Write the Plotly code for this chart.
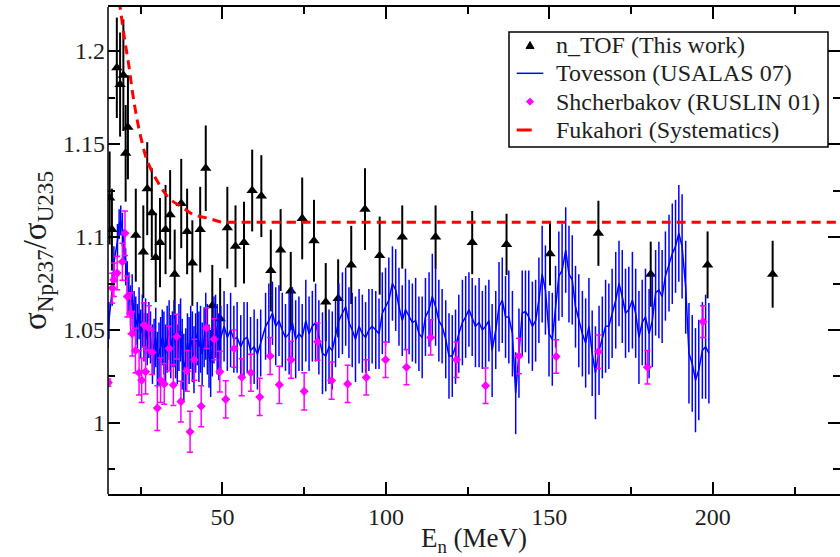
import plotly.graph_objects as go

# ---------------- data ----------------
ntof_E = [15.5, 16.2, 17.7, 18.7, 19.7, 20.4, 21.1, 23.5, 25.8, 27.0,
          28.4, 29.6, 30.9, 32.6, 34.0, 35.4, 37.4, 39.2, 40.8, 43.2,
          44.9, 46.9, 49.3, 51.5, 54.0, 56.6, 59.1, 61.9, 64.8, 67.8,
          70.9, 74.4, 78.0, 81.6, 85.4, 89.4, 93.6, 98.1, 105.0, 115.2,
          126.4, 136.9, 150.2, 165.0, 181.0, 198.4, 218.3]
ntof_R = [1.121, 1.104, 1.191, 1.182, 1.187, 1.145, 1.159, 1.101, 1.092, 1.126,
          1.113, 1.089, 1.097, 1.104, 1.112, 1.080, 1.118, 1.103, 1.086, 1.104,
          1.137, 1.063, 1.056, 1.105, 1.095, 1.097, 1.125, 1.122, 1.082, 1.093,
          1.071, 1.110, 1.098, 1.065, 1.067, 1.085, 1.115, 1.090, 1.100, 1.100,
          1.097, 1.096, 1.091, 1.102, 1.080, 1.085, 1.080]
ntof_err = [0.025, 0.022, 0.027, 0.028, 0.030, 0.026, 0.028, 0.025, 0.025, 0.025,
            0.024, 0.024, 0.024, 0.024, 0.024, 0.024, 0.024, 0.023, 0.023, 0.023,
            0.023, 0.022, 0.022, 0.022, 0.022, 0.022, 0.022, 0.022, 0.022, 0.022,
            0.021, 0.022, 0.022, 0.021, 0.021, 0.021, 0.022, 0.021, 0.017, 0.017,
            0.017, 0.0165, 0.017, 0.0175, 0.0175, 0.018, 0.018]

tov_E = [15.0, 15.3, 16.3, 16.8, 17.9, 18.4, 18.9, 19.4, 19.9, 20.4,
         20.9, 21.4, 21.9, 22.4, 23.0, 23.5, 24.0, 24.5, 25.0, 25.5,
         26.0, 26.5, 27.0, 27.5, 28.0, 28.6, 29.1, 29.6, 30.1, 30.6,
         31.1, 31.6, 32.1, 32.6, 33.1, 33.7, 34.2, 34.7, 35.2, 35.7,
         36.2, 36.7, 37.2, 37.7, 38.2, 38.8, 39.3, 39.8, 40.3, 40.8,
         41.3, 41.8, 42.3, 42.8, 43.3, 43.8, 44.4, 44.9, 45.4, 45.9,
         46.4, 46.9, 47.4, 47.9, 48.4, 48.9, 49.5, 50.5, 51.5, 52.5,
         53.5, 54.5, 55.6, 56.6, 57.6, 58.6, 59.7, 60.7, 61.7,
         63.2, 64.2, 65.3, 66.3, 67.3, 68.3, 69.3, 70.4, 71.4, 72.4,
         73.4, 74.4, 75.5, 76.5, 77.5, 78.5, 79.5, 80.6, 81.6, 82.6,
         83.6, 84.6, 85.6, 86.7, 87.7, 88.7, 89.7, 90.7, 91.8, 92.8,
         93.8, 94.8, 95.8, 96.9, 97.9, 98.9, 99.9, 100.9, 102.0, 103.0,
         104.0, 105.0, 106.0, 107.1, 108.1, 109.1, 110.1, 111.1, 112.1, 113.2,
         114.2, 115.2, 116.2, 117.2, 118.3, 119.3, 120.3, 121.3, 122.3, 123.4,
         124.4, 125.4, 126.4, 127.4, 128.5, 129.5, 130.5,
         131.5, 132.5, 133.6, 134.6, 135.6, 136.6, 137.6, 138.7, 139.7, 140.7,
         141.7, 142.7, 143.7, 144.8, 145.8, 146.8, 147.8, 148.8, 149.9, 150.9,
         151.9, 152.9, 153.9, 155.0, 156.0, 157.0, 158.0, 159.0, 160.1, 161.1,
         162.1, 163.1, 164.1, 165.2, 166.2, 167.2, 168.2, 169.2, 170.3, 171.3,
         172.3, 173.3, 174.3, 175.4, 176.4, 177.4, 178.4, 179.4, 180.5, 181.5,
         182.5, 183.5, 184.5, 185.5, 186.6, 187.6, 188.6, 189.6, 190.6, 191.7,
         192.7, 193.7, 194.7, 195.7, 196.8, 197.8, 198.8]
tov_R = [1.050, 1.055, 1.072, 1.086, 1.098, 1.107, 1.109, 1.104, 1.095, 1.084,
         1.077, 1.070, 1.063, 1.068, 1.059, 1.055, 1.052, 1.059, 1.048, 1.055,
         1.046, 1.052, 1.045, 1.050, 1.046, 1.037, 1.041, 1.046, 1.034, 1.037,
         1.041, 1.046, 1.043, 1.037, 1.045, 1.050, 1.041, 1.045, 1.048, 1.041,
         1.037, 1.046, 1.050, 1.037, 1.030, 1.034, 1.043, 1.039, 1.046, 1.041,
         1.034, 1.043, 1.048, 1.041, 1.045, 1.037, 1.046, 1.052, 1.045, 1.036,
         1.032, 1.041, 1.050, 1.052, 1.045, 1.041, 1.046, 1.052, 1.046, 1.050,
         1.045, 1.046, 1.041, 1.045, 1.046, 1.039, 1.041, 1.037, 1.043,
         1.052, 1.055, 1.059, 1.052, 1.055, 1.050, 1.046, 1.048, 1.054, 1.045,
         1.048, 1.046, 1.055, 1.048, 1.052, 1.054, 1.046, 1.0375, 1.036, 1.041,
         1.039, 1.048, 1.055, 1.059, 1.0625, 1.054, 1.050, 1.045, 1.052, 1.048,
         1.046, 1.050, 1.052, 1.050, 1.048, 1.059, 1.0625, 1.066, 1.075, 1.0715,
         1.0625, 1.055, 1.061, 1.057, 1.054, 1.055, 1.048, 1.046, 1.057, 1.061,
         1.068, 1.0625, 1.055, 1.052, 1.045, 1.036, 1.036, 1.041, 1.048, 1.054,
         1.057, 1.061, 1.057, 1.052, 1.054, 1.050, 1.052,
         1.055, 1.039, 1.050, 1.0625, 1.066, 1.057, 1.057, 1.048, 1.016, 1.0375,
         1.059, 1.060, 1.057, 1.052, 1.055, 1.066, 1.080, 1.0715, 1.048, 1.045,
         1.0625, 1.079, 1.082, 1.093, 1.080, 1.077, 1.0625, 1.055, 1.048, 1.043,
         1.052, 1.0375, 1.027, 1.039, 1.046, 1.052, 1.052, 1.059, 1.066, 1.075,
         1.068, 1.059, 1.061, 1.066, 1.059, 1.046, 1.054, 1.057, 1.048, 1.055,
         1.070, 1.0715, 1.068, 1.079, 1.086, 1.091, 1.095, 1.102, 1.095, 1.073,
         1.0375, 1.032, 1.023, 1.0285, 1.039, 1.041, 1.0375]
tov_err = [0.010, 0.010, 0.009, 0.009, 0.009, 0.008, 0.008, 0.009, 0.009, 0.010,
           0.010, 0.011, 0.011, 0.012, 0.012, 0.013, 0.012, 0.014, 0.013, 0.014,
           0.013, 0.015, 0.014, 0.015, 0.014, 0.016, 0.015, 0.016, 0.015, 0.017,
           0.016, 0.015, 0.017, 0.016, 0.018, 0.016, 0.017, 0.015, 0.018, 0.017,
           0.016, 0.018, 0.017, 0.019, 0.018, 0.017, 0.016, 0.018, 0.017, 0.019,
           0.018, 0.016, 0.017, 0.019, 0.018, 0.017, 0.016, 0.018, 0.019, 0.017,
           0.018, 0.016, 0.018, 0.017, 0.019, 0.018, 0.017, 0.019, 0.018, 0.020,
           0.018, 0.019, 0.017, 0.020, 0.019, 0.018, 0.020, 0.019, 0.018,
           0.018, 0.020, 0.017, 0.021, 0.019, 0.020, 0.018, 0.022, 0.019, 0.021,
           0.020, 0.018, 0.022, 0.020, 0.019, 0.021, 0.020, 0.022, 0.019, 0.020,
           0.021, 0.018, 0.020, 0.022, 0.021, 0.019, 0.020, 0.023, 0.020, 0.021,
           0.019, 0.022, 0.020, 0.021, 0.019, 0.022, 0.021, 0.023, 0.020, 0.022,
           0.021, 0.019, 0.022, 0.020, 0.021, 0.023, 0.020, 0.022, 0.021, 0.020,
           0.023, 0.021, 0.022, 0.020, 0.021, 0.023, 0.022, 0.020, 0.021, 0.023,
           0.022, 0.020, 0.021, 0.022, 0.024, 0.021, 0.022,
           0.022, 0.025, 0.021, 0.024, 0.023, 0.022, 0.025, 0.023, 0.022, 0.024,
           0.023, 0.022, 0.025, 0.024, 0.022, 0.023, 0.026, 0.024, 0.023, 0.025,
           0.022, 0.024, 0.025, 0.023, 0.026, 0.024, 0.022, 0.025, 0.023, 0.024,
           0.026, 0.023, 0.025, 0.024, 0.022, 0.025, 0.023, 0.024, 0.026, 0.023,
           0.025, 0.024, 0.023, 0.026, 0.024, 0.025, 0.023, 0.026, 0.024, 0.025,
           0.023, 0.026, 0.025, 0.024, 0.026, 0.027, 0.025, 0.026, 0.028, 0.025,
           0.027, 0.026, 0.028, 0.027, 0.026, 0.028, 0.027]

shch_E = [15.1, 16.3, 16.8, 17.8, 19.4, 20.2, 20.9, 21.9, 22.4, 23.4,
          24.5, 25.3, 26.0, 26.5, 27.5, 28.5, 30.1, 31.1, 32.2, 33.7,
          35.0, 36.0, 37.3, 39.1, 40.1, 41.4, 43.5, 45.1, 47.5, 49.2,
          51.0, 53.6, 55.9, 58.7, 61.4, 64.6, 67.4, 71.0, 75.0, 79.1,
          83.4, 88.3, 94.0, 99.9, 106.3, 113.7, 121.6, 130.5, 140.7, 152.1,
          165.0, 180.0, 197.0]
shch_R = [1.0217, 1.0725, 1.077, 1.0806, 1.0867, 1.102, 1.068, 1.059, 1.048, 1.039,
          1.027, 1.023, 1.0527, 1.0276, 1.051, 1.038, 1.008, 1.023, 1.021, 1.040,
          1.0204, 1.0464, 1.0115, 1.028, 0.9953, 1.034, 1.009, 1.051, 1.045, 1.0276,
          1.0127, 1.040, 1.0246, 1.027, 1.014, 1.036, 1.0205, 1.034, 1.017, 1.0437,
          1.0228, 1.021, 1.0245, 1.034, 1.030, 1.046, 1.034, 1.020, 1.036, 1.0357,
          1.0383, 1.030, 1.0545]
shch_err = [0.002, 0.008, 0.009, 0.009, 0.010, 0.012, 0.011, 0.011, 0.012, 0.012,
            0.012, 0.012, 0.012, 0.012, 0.012, 0.012, 0.012, 0.012, 0.011, 0.012,
            0.011, 0.012, 0.011, 0.011, 0.011, 0.011, 0.011, 0.011, 0.011, 0.011,
            0.010, 0.010, 0.010, 0.010, 0.010, 0.010, 0.010, 0.010, 0.010, 0.010,
            0.010, 0.010, 0.0095, 0.0095, 0.0095, 0.0095, 0.0095, 0.0095, 0.0095, 0.009,
            0.009, 0.009, 0.0085]

fuk_E = [18.0, 18.7, 20.1, 21.4, 22.4, 23.5, 25.0, 27.0, 30.1, 33.6,
         37.7, 41.2, 45.9, 49.9, 55.0, 240.0]
fuk_R = [1.235, 1.224, 1.206, 1.192, 1.179, 1.167, 1.154, 1.141, 1.130, 1.121,
         1.116, 1.112, 1.110, 1.108, 1.108, 1.108]

series_names = ["n_TOF (This work)", "Tovesson (USALAS 07)",
                "Shcherbakov (RUSLIN 01)", "Fukahori (Systematics)"]

x_range = [15, 238.9]
y_range = [0.9618, 1.2237]
x_major = [50, 100, 150, 200]
y_major = [1.0, 1.05, 1.1, 1.15, 1.2]
y_major_text = ["1", "1.05", "1.1", "1.15", "1.2"]

SERIF = "Liberation Serif"
TXT = "#1e1e1e"
BLACK, BLUE, MAGENTA, RED = "black", "#0000ff", "#ff00ff", "#ff0000"

fig = go.Figure()

fig.add_trace(go.Scatter(
    x=ntof_E, y=ntof_R, mode="markers", name=series_names[0],
    marker=dict(symbol="triangle-up", size=10, color=BLACK),
    error_y=dict(type="data", array=ntof_err, color=BLACK, thickness=2, width=0),
))
fig.add_trace(go.Scatter(
    x=tov_E, y=tov_R, mode="lines", name=series_names[1],
    line=dict(color=BLUE, width=1.5),
    error_y=dict(type="data", array=tov_err, color=BLUE, thickness=1.5, width=0),
))
fig.add_trace(go.Scatter(
    x=shch_E, y=shch_R, mode="markers", name=series_names[2],
    marker=dict(symbol="diamond", size=7, color=MAGENTA),
    error_y=dict(type="data", array=shch_err, color=MAGENTA, thickness=1.5, width=3),
))
fig.add_trace(go.Scatter(
    x=fuk_E, y=fuk_R, mode="lines", name=series_names[3],
    line=dict(color=RED, width=3, dash="9px,6px", shape="spline"),
))

# ---- legend box drawn in plot-area (paper) coordinates ----
L, T, B = 108, 7, 494          # plot area pixel bounds (left, top, bottom)
PW, PH = 732, 487               # plot area size in px


def px(xp):
    return (xp - L) / PW


def py(yp):
    return (B - yp) / PH


row_y = [45, 73.3, 101.7, 130]
shapes = [
    dict(type="line", xref="paper", yref="paper", x0=0, x1=0, y0=0, y1=1,
         line=dict(color="black", width=1.5), layer="above"),
    dict(type="rect", xref="paper", yref="paper", x0=px(509), x1=px(828), y0=py(147), y1=py(32),
         line=dict(color="black", width=1.5), fillcolor="white", layer="above"),
    # n_TOF triangle
    dict(type="path", xref="paper", yref="paper",
         path=f"M {px(526)},{py(48.5)} L {px(534)},{py(48.5)} L {px(530)},{py(41.5)} Z",
         line=dict(color=BLACK, width=1), fillcolor=BLACK, layer="above"),
    # Tovesson line
    dict(type="line", xref="paper", yref="paper", x0=px(516.7), x1=px(543.3), y0=py(row_y[1]), y1=py(row_y[1]),
         line=dict(color=BLUE, width=1.5), layer="above"),
    # Shcherbakov diamond
    dict(type="path", xref="paper", yref="paper",
         path=f"M {px(526.5)},{py(row_y[2])} L {px(530)},{py(row_y[2]-3.5)} L {px(533.5)},{py(row_y[2])} L {px(530)},{py(row_y[2]+3.5)} Z",
         line=dict(color=MAGENTA, width=1), fillcolor=MAGENTA, layer="above"),
    # Fukahori short red line
    dict(type="line", xref="paper", yref="paper", x0=px(516.7), x1=px(531.7), y0=py(row_y[3]), y1=py(row_y[3]),
         line=dict(color=RED, width=3), layer="above"),
]
annotations = [
    dict(text=name, xref="paper", yref="paper", x=px(554), y=py(yy), xanchor="left", yanchor="middle",
         showarrow=False, font=dict(family=SERIF, size=24, color=TXT))
    for name, yy in zip(series_names, row_y)
]

axis_font = dict(family=SERIF, size=24, color=TXT)

fig.update_layout(
    width=840, height=557,
    margin=dict(l=L, r=0, t=T, b=557 - B),
    paper_bgcolor="white", plot_bgcolor="white",
    font=dict(family=SERIF, size=24, color=TXT),
    showlegend=False,
    xaxis=dict(
        range=x_range, tickmode="array", tickvals=x_major,
        ticks="inside", ticklen=12, tickwidth=1.5, tickcolor="black",
        minor=dict(dtick=25, tick0=0, ticks="inside", ticklen=7, tickwidth=1.5, tickcolor="black"),
        showline=True, linecolor="black", linewidth=1.5, mirror="ticks",
        showgrid=False, zeroline=False, tickfont=axis_font,
        title=dict(text="E<sub>n</sub> (MeV)", font=dict(family=SERIF, size=27, color=TXT), standoff=2),
    ),
    yaxis=dict(
        range=y_range, tickmode="array", tickvals=y_major, ticktext=y_major_text,
        ticks="inside", ticklen=12, tickwidth=1.5, tickcolor="black",
        minor=dict(dtick=0.025, tick0=0, ticks="inside", ticklen=7, tickwidth=1.5, tickcolor="black"),
        showline=False, mirror="ticks",
        showgrid=False, zeroline=False, tickfont=axis_font, ticklabelstandoff=2,
        title=dict(text="σ<sub>Np237</sub>/σ<sub>U235</sub>", font=dict(family=SERIF, size=33, color=TXT), standoff=6),
    ),
    shapes=shapes,
    annotations=annotations,
)

fig.write_html("out.html")
